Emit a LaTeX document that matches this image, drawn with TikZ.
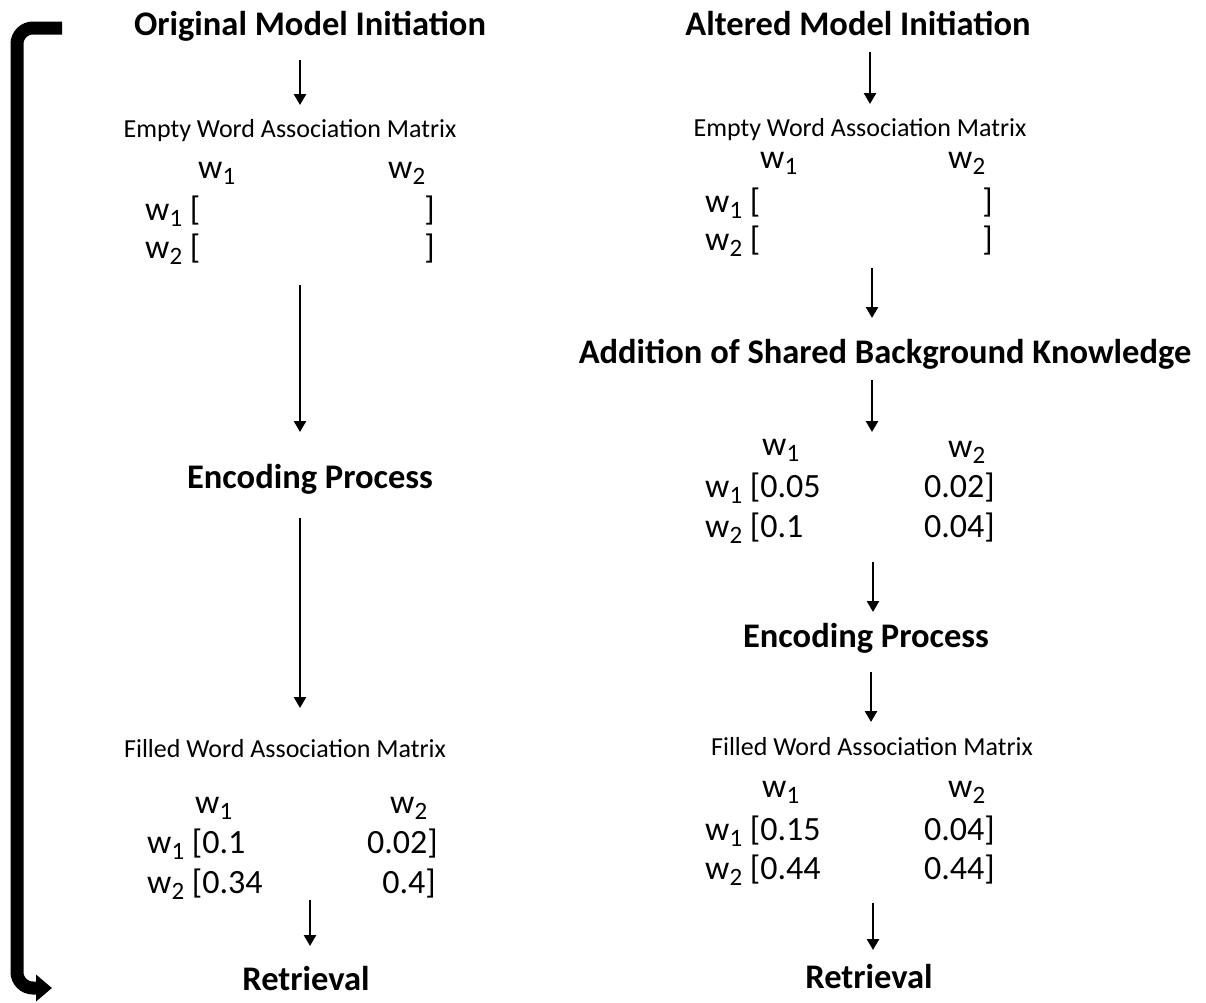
\documentclass[tikz,border=0pt]{standalone}
\usepackage{fontspec}
\setmainfont{Carlito}
\usepackage{graphicx}
\usetikzlibrary{arrows.meta}
\newcommand\wsub[1]{w\raisebox{-6pt}{\fontsize{25}{25}\selectfont #1}}
\tikzset{
  title/.style={font=\fontsize{34.5}{36}\selectfont\bfseries, anchor=base, inner sep=0pt},
  label/.style={font=\fontsize{26}{28}\selectfont, anchor=base, inner sep=0pt},
  mat/.style={font=\fontsize{34}{36}\selectfont, inner sep=0pt},
  matl/.style={mat, anchor=base west},
  matr/.style={mat, anchor=base east},
  flow/.style={line width=2.5pt, -{Triangle[length=11pt,width=12pt]}},
  loop/.style={line width=13pt, rounded corners=16pt, -{Triangle[length=16pt,width=26pt]}}
}
\begin{document}
\begin{tikzpicture}[x=1pt,y=-1pt]
\useasboundingbox (0,0) rectangle (1206,1002);
% ---------- left column ----------
\node[title] (lt) at (310,35) {Original Model Initiation};
\node[label] (le) at (290,137) {Empty Word Association Matrix};
\node[matl] (leh1) at (198,178) {\wsub{1}};
\node[matl] (leh2) at (388,178) {\wsub{2}};
\node[matl] (ler1) at (145,220) {\wsub{1} [};
\node[matr] (ler1b) at (435,220) {]};
\node[matl] (ler2) at (145,258) {\wsub{2} [};
\node[matr] (ler2b) at (435,258) {]};
\node[title] (lenc) at (310,488) {Encoding Process};
\node[label] (lf) at (285,757) {Filled Word Association Matrix};
\node[matl] (lfh1) at (195,813) {\wsub{1}};
\node[matl] (lfh2) at (390,813) {\wsub{2}};
\node[matl] (lfr1) at (147,853) {\wsub{1} [0.1};
\node[matr] (lfr1b) at (438,853) {0.02]};
\node[matl] (lfr2) at (147,893) {\wsub{2} [0.34};
\node[matr] (lfr2b) at (436,893) {0.4]};
\node[title] (lr) at (306,990) {Retrieval};
% left arrows
\coordinate (a1s) at (300,60);  \coordinate (a1e) at (300,105);
\coordinate (a2s) at (300,285); \coordinate (a2e) at (300,432);
\coordinate (a3s) at (300,518); \coordinate (a3e) at (300,708);
\coordinate (a4s) at (310,900); \coordinate (a4e) at (310,946);
\draw[flow] (a1s) -- (a1e);
\draw[flow] (a2s) -- (a2e);
\draw[flow] (a3s) -- (a3e);
\draw[flow] (a4s) -- (a4e);
% ---------- right column ----------
\node[title] (rt) at (858,35) {Altered Model Initiation};
\node[label] (re) at (860,136) {Empty Word Association Matrix};
\node[matl] (reh1) at (760,168) {\wsub{1}};
\node[matl] (reh2) at (948,168) {\wsub{2}};
\node[matl] (rer1) at (705,212) {\wsub{1} [};
\node[matr] (rer1b) at (993,212) {]};
\node[matl] (rer2) at (705,250) {\wsub{2} [};
\node[matr] (rer2b) at (993,250) {]};
\node[title] (radd) at (885,363) {Addition of Shared Background Knowledge};
\node[matl] (rph1) at (762,455) {\wsub{1}};
\node[matl] (rph2) at (948,457) {\wsub{2}};
\node[matl] (rpr1) at (705,497) {\wsub{1} [0.05};
\node[matr] (rpr1b) at (995,497) {0.02]};
\node[matl] (rpr2) at (705,537) {\wsub{2} [0.1};
\node[matr] (rpr2b) at (995,537) {0.04]};
\node[title] (renc) at (866,647) {Encoding Process};
\node[label] (rf) at (872,755) {Filled Word Association Matrix};
\node[matl] (rfh1) at (762,797) {\wsub{1}};
\node[matl] (rfh2) at (948,797) {\wsub{2}};
\node[matl] (rfr1) at (705,840) {\wsub{1} [0.15};
\node[matr] (rfr1b) at (995,840) {0.04]};
\node[matl] (rfr2) at (705,879) {\wsub{2} [0.44};
\node[matr] (rfr2b) at (995,879) {0.44]};
\node[title] (rr) at (869,988) {Retrieval};
% right arrows
\coordinate (b1s) at (870,52);  \coordinate (b1e) at (870,104);
\coordinate (b2s) at (872,268); \coordinate (b2e) at (872,318);
\coordinate (b3s) at (872,380); \coordinate (b3e) at (872,432);
\coordinate (b4s) at (873,562); \coordinate (b4e) at (873,612);
\coordinate (b5s) at (871,672); \coordinate (b5e) at (871,722);
\coordinate (b6s) at (873,903); \coordinate (b6e) at (873,950);
\draw[flow] (b1s) -- (b1e);
\draw[flow] (b2s) -- (b2e);
\draw[flow] (b3s) -- (b3e);
\draw[flow] (b4s) -- (b4e);
\draw[flow] (b5s) -- (b5e);
\draw[flow] (b6s) -- (b6e);
% ---------- loop-back bracket ----------
\coordinate (ls) at (62,28);
\coordinate (lc1) at (17,28);
\coordinate (lc2) at (17,988);
\coordinate (le2) at (52,988);
\draw[loop] (ls) -- (lc1) -- (lc2) -- (le2);
\end{tikzpicture}
\end{document}
